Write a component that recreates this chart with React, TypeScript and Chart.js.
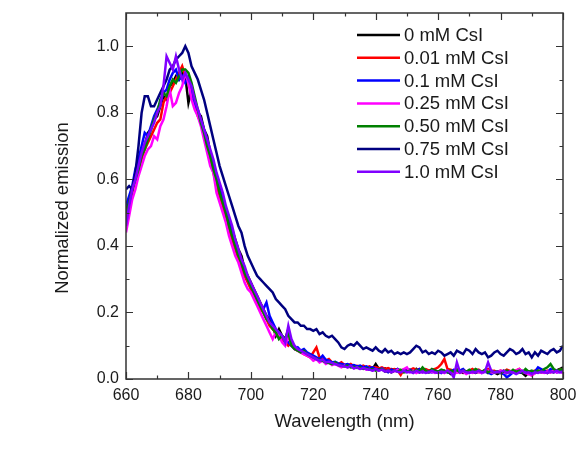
import React, { useEffect, useRef } from "react";
import { Chart, registerables } from "chart.js";

Chart.register(...registerables);

// Sampling grid: 660 nm to 800 nm, 1 nm step
const WL_START = 660;
const WL_STEP = 1;

const seriesLabels = [
  "0 mM CsI",
  "0.01 mM CsI",
  "0.1 mM CsI",
  "0.25 mM CsI",
  "0.50 mM CsI",
  "0.75 mM CsI",
  "1.0 mM CsI",
];

const seriesColors = ["#000000", "#ff0000", "#0000ff", "#ff00ff", "#008000", "#000080", "#8000ff"];

const cs0 = [
  0.50, 0.54, 0.57, 0.62, 0.64, 0.68, 0.70, 0.74, 0.75, 0.78,
  0.79, 0.82, 0.85, 0.84, 0.88, 0.89, 0.91, 0.90, 0.92, 0.91,
  0.83, 0.87, 0.84, 0.80, 0.79, 0.75, 0.73, 0.68, 0.65, 0.61,
  0.58, 0.55, 0.51, 0.48, 0.45, 0.42, 0.39, 0.37, 0.33, 0.31,
  0.29, 0.27, 0.25, 0.23, 0.21, 0.19, 0.18, 0.16, 0.13, 0.15,
  0.13, 0.12, 0.15, 0.10, 0.095, 0.09, 0.08, 0.085, 0.075, 0.07,
  0.065, 0.06, 0.058, 0.055, 0.05, 0.052, 0.045, 0.047, 0.042, 0.04,
  0.041, 0.038, 0.04, 0.035, 0.037, 0.033, 0.035, 0.03, 0.033, 0.03,
  0.045, 0.03, 0.028, 0.032, 0.025, 0.03, 0.027, 0.03, 0.025, 0.028,
  0.03, 0.025, 0.022, 0.03, 0.02, 0.025, 0.028, 0.022, 0.025, 0.02,
  0.022, 0.025, 0.02, 0.023, 0.015, 0.02, 0.025, 0.022, 0.018, 0.02,
  0.025, 0.02, 0.018, 0.022, 0.02, 0.025, 0.018, 0.022, 0.02, 0.015,
  0.02, 0.025, 0.018, 0.022, 0.02, 0.024, 0.02, 0.018, 0.01, 0.02,
  0.022, 0.018, 0.025, 0.02, 0.022, 0.018, 0.024, 0.02, 0.026, 0.03,
  0.035,
];

const cs001 = [
  0.47, 0.52, 0.56, 0.60, 0.63, 0.66, 0.69, 0.71, 0.73, 0.75,
  0.77, 0.78, 0.83, 0.85, 0.86, 0.88, 0.90, 0.92, 0.94, 0.91,
  0.90, 0.86, 0.83, 0.79, 0.77, 0.73, 0.70, 0.66, 0.62, 0.58,
  0.55, 0.52, 0.48, 0.45, 0.42, 0.39, 0.36, 0.33, 0.31, 0.29,
  0.27, 0.25, 0.23, 0.21, 0.20, 0.18, 0.16, 0.15, 0.14, 0.13,
  0.12, 0.11, 0.10, 0.11, 0.09, 0.085, 0.08, 0.075, 0.07, 0.065,
  0.08, 0.095, 0.065, 0.06, 0.055, 0.06, 0.05, 0.048, 0.045, 0.05,
  0.042, 0.04, 0.045, 0.038, 0.04, 0.036, 0.04, 0.035, 0.038, 0.033,
  0.036, 0.032, 0.035, 0.03, 0.033, 0.028, 0.03, 0.026, 0.012, 0.028,
  0.03, 0.027, 0.032, 0.028, 0.03, 0.025, 0.03, 0.026, 0.028, 0.03,
  0.035, 0.045, 0.06, 0.03, 0.028, 0.025, 0.03, 0.026, 0.028, 0.022,
  0.025, 0.03, 0.024, 0.028, 0.022, 0.026, 0.03, 0.024, 0.025, 0.02,
  0.025, 0.022, 0.028, 0.024, 0.02, 0.026, 0.03, 0.022, 0.025, 0.02,
  0.022, 0.025, 0.02, 0.028, 0.022, 0.025, 0.02, 0.026, 0.022, 0.028,
  0.03,
];

const cs01 = [
  0.52, 0.55, 0.58, 0.63, 0.66, 0.70, 0.74, 0.73, 0.76, 0.79,
  0.81, 0.83, 0.86, 0.87, 0.90, 0.92, 0.93, 0.90, 0.91, 0.89,
  0.91, 0.85, 0.82, 0.81, 0.78, 0.75, 0.72, 0.68, 0.64, 0.61,
  0.57, 0.54, 0.50, 0.47, 0.44, 0.41, 0.38, 0.35, 0.32, 0.30,
  0.28, 0.26, 0.24, 0.22, 0.21, 0.23, 0.19, 0.17, 0.15, 0.14,
  0.13, 0.12, 0.11, 0.10, 0.09, 0.095, 0.085, 0.09, 0.08, 0.075,
  0.07, 0.065, 0.06, 0.07, 0.058, 0.055, 0.05, 0.052, 0.047, 0.045,
  0.043, 0.045, 0.04, 0.042, 0.038, 0.04, 0.035, 0.038, 0.033, 0.035,
  0.03, 0.028, 0.032, 0.025, 0.02, 0.028, 0.025, 0.03, 0.022, 0.026,
  0.025, 0.028, 0.022, 0.025, 0.03, 0.02, 0.025, 0.022, 0.02, 0.025,
  0.022, 0.018, 0.025, 0.02, 0.022, 0.028, 0.02, 0.025, 0.03, 0.02,
  0.018, 0.022, 0.02, 0.025, 0.018, 0.022, 0.02, 0.015, 0.02, 0.022,
  0.018, 0.015, 0.005, 0.012, 0.02, 0.018, 0.022, 0.02, 0.025, 0.015,
  0.02, 0.022, 0.035, 0.03, 0.025, 0.02, 0.03, 0.025, 0.02, 0.022,
  0.025,
];

const cs025 = [
  0.44, 0.49, 0.54, 0.57, 0.61, 0.64, 0.67, 0.69, 0.70, 0.73,
  0.72, 0.76, 0.78, 0.82, 0.87, 0.82, 0.83, 0.86, 0.88, 0.92,
  0.89, 0.84, 0.81, 0.79, 0.76, 0.72, 0.68, 0.64, 0.62, 0.56,
  0.53, 0.50, 0.47, 0.43, 0.40, 0.37, 0.35, 0.32, 0.29, 0.27,
  0.26, 0.24, 0.22, 0.20, 0.18, 0.16, 0.14, 0.12, 0.14, 0.13,
  0.11, 0.10, 0.13, 0.10, 0.09, 0.085, 0.08, 0.075, 0.07, 0.065,
  0.055, 0.06, 0.05, 0.055, 0.045, 0.05, 0.042, 0.045, 0.04, 0.035,
  0.04, 0.035, 0.038, 0.032, 0.035, 0.03, 0.033, 0.028, 0.03, 0.025,
  0.028, 0.025, 0.03, 0.022, 0.025, 0.02, 0.023, 0.028, 0.025, 0.03,
  0.035, 0.02, 0.025, 0.018, 0.022, 0.02, 0.025, 0.02, 0.022, 0.018,
  0.02, 0.022, 0.018, 0.025, 0.02, 0.015, 0.02, 0.018, 0.022, 0.015,
  0.02, 0.018, 0.022, 0.02, 0.018, 0.022, 0.025, 0.02, 0.018, 0.022,
  0.025, 0.02, 0.018, 0.022, 0.02, 0.025, 0.03, 0.022, 0.018, 0.015,
  0.01, 0.018, 0.022, 0.02, 0.018, 0.022, 0.02, 0.025, 0.02, 0.022,
  0.018,
];

const cs050 = [
  0.50, 0.53, 0.57, 0.60, 0.63, 0.67, 0.69, 0.72, 0.75, 0.78,
  0.80, 0.84, 0.86, 0.85, 0.88, 0.90, 0.89, 0.91, 0.93, 0.93,
  0.92, 0.89, 0.85, 0.81, 0.77, 0.74, 0.70, 0.67, 0.63, 0.60,
  0.56, 0.53, 0.50, 0.46, 0.43, 0.40, 0.37, 0.35, 0.32, 0.30,
  0.28, 0.26, 0.24, 0.22, 0.20, 0.18, 0.17, 0.15, 0.14, 0.12,
  0.13, 0.12, 0.14, 0.10, 0.09, 0.085, 0.08, 0.085, 0.075, 0.07,
  0.065, 0.06, 0.058, 0.055, 0.05, 0.048, 0.045, 0.05, 0.042, 0.04,
  0.038, 0.04, 0.035, 0.037, 0.033, 0.035, 0.03, 0.033, 0.028, 0.03,
  0.025, 0.028, 0.03, 0.022, 0.025, 0.02, 0.026, 0.022, 0.028, 0.02,
  0.022, 0.025, 0.02, 0.028, 0.022, 0.035, 0.025, 0.02, 0.03, 0.025,
  0.022, 0.028, 0.025, 0.02, 0.025, 0.022, 0.028, 0.02, 0.025, 0.022,
  0.028, 0.022, 0.03, 0.025, 0.022, 0.028, 0.02, 0.025, 0.02, 0.022,
  0.018, 0.022, 0.025, 0.02, 0.028, 0.022, 0.025, 0.02, 0.03, 0.022,
  0.025, 0.02, 0.025, 0.022, 0.03, 0.035, 0.045, 0.03, 0.025, 0.028,
  0.03,
];

const cs075 = [
  0.57, 0.58, 0.57, 0.62, 0.70, 0.80, 0.85, 0.85, 0.82, 0.82,
  0.84, 0.86, 0.88, 0.90, 0.93, 0.94, 0.96, 0.97, 0.98, 1.00,
  0.98, 0.94, 0.92, 0.90, 0.87, 0.84, 0.80, 0.76, 0.72, 0.68,
  0.64, 0.61, 0.58, 0.55, 0.52, 0.49, 0.46, 0.44, 0.40, 0.37,
  0.35, 0.33, 0.31, 0.30, 0.29, 0.28, 0.27, 0.26, 0.24, 0.23,
  0.22, 0.21, 0.19, 0.18, 0.17, 0.17, 0.16, 0.16, 0.15, 0.15,
  0.145, 0.15, 0.135, 0.14, 0.13, 0.125, 0.13, 0.12, 0.11, 0.095,
  0.09, 0.10, 0.105, 0.10, 0.11, 0.10, 0.09, 0.095, 0.09, 0.085,
  0.095, 0.085, 0.08, 0.09, 0.08, 0.085, 0.075, 0.08, 0.075, 0.08,
  0.075, 0.08, 0.09, 0.10, 0.095, 0.08, 0.085, 0.075, 0.08, 0.075,
  0.085, 0.08, 0.07, 0.075, 0.08, 0.07, 0.085, 0.08, 0.075, 0.09,
  0.085, 0.075, 0.09, 0.08, 0.075, 0.08, 0.065, 0.07, 0.08, 0.085,
  0.075, 0.07, 0.08, 0.09, 0.085, 0.075, 0.08, 0.09, 0.075, 0.08,
  0.065, 0.08, 0.07, 0.085, 0.08, 0.075, 0.085, 0.09, 0.08, 0.085,
  0.10,
];

const cs10 = [
  0.46, 0.52, 0.57, 0.60, 0.64, 0.68, 0.71, 0.73, 0.75, 0.77,
  0.80, 0.82, 0.88, 0.97, 0.95, 0.93, 0.97, 0.93, 0.90, 0.92,
  0.90, 0.88, 0.84, 0.81, 0.78, 0.75, 0.72, 0.69, 0.66, 0.62,
  0.59, 0.56, 0.52, 0.49, 0.46, 0.42, 0.39, 0.36, 0.34, 0.31,
  0.29, 0.27, 0.25, 0.23, 0.21, 0.19, 0.17, 0.16, 0.15, 0.14,
  0.13, 0.11, 0.16, 0.12, 0.10, 0.09, 0.085, 0.08, 0.075, 0.07,
  0.065, 0.06, 0.055, 0.058, 0.05, 0.052, 0.048, 0.045, 0.042, 0.04,
  0.038, 0.035, 0.04, 0.032, 0.035, 0.03, 0.033, 0.03, 0.028, 0.025,
  0.03, 0.025, 0.028, 0.022, 0.025, 0.02, 0.025, 0.022, 0.02, 0.025,
  0.02, 0.022, 0.018, 0.025, 0.02, 0.022, 0.018, 0.02, 0.025, 0.02,
  0.018, 0.022, 0.02, 0.025, 0.02, 0.005, 0.05, 0.02, 0.025, 0.02,
  0.018, 0.022, 0.02, 0.025, 0.02, 0.022, 0.05, 0.025, 0.02, 0.022,
  0.02, 0.025, 0.018, 0.022, 0.02, 0.015, 0.02, 0.025, 0.018, 0.02,
  0.015, 0.02, 0.018, 0.022, 0.02, 0.018, 0.022, 0.02, 0.025, 0.02,
  0.022,
];

const seriesValues = [cs0, cs001, cs01, cs025, cs050, cs075, cs10];

const xTickValues = [660, 680, 700, 720, 740, 760, 780, 800];
const yTickValues = [0.0, 0.2, 0.4, 0.6, 0.8, 1.0];
const X_MIN = 660;
const X_MAX = 800;
const Y_MIN = 0;
const Y_MAX = 1.1;

const FONT = "'Liberation Sans', Arial, Helvetica, sans-serif";
const TEXT_COLOR = "#1a1a1a";
const AXIS_COLOR = "#333333";

const framePlugin = {
  id: "frameTicks",
  afterDraw(chart: any) {
    const { ctx, chartArea } = chart;
    const xs = chart.scales.x;
    const ys = chart.scales.y;
    const { left, right, top, bottom } = chartArea;
    ctx.save();
    ctx.strokeStyle = AXIS_COLOR;
    ctx.lineWidth = 1.5;
    ctx.strokeRect(left, top, right - left, bottom - top);
    ctx.lineWidth = 1.2;
    const majorLen = 7;
    const minorLen = 3.5;
    // x ticks (bottom and top, inward)
    for (let i = 0; i < xTickValues.length; i++) {
      const v = xTickValues[i];
      const px = Math.round(xs.getPixelForValue(v)) + 0.5;
      ctx.beginPath();
      ctx.moveTo(px, bottom);
      ctx.lineTo(px, bottom - majorLen);
      ctx.moveTo(px, top);
      ctx.lineTo(px, top + majorLen);
      ctx.stroke();
      if (i < xTickValues.length - 1) {
        const mv = (v + xTickValues[i + 1]) / 2;
        const mx = Math.round(xs.getPixelForValue(mv)) + 0.5;
        ctx.beginPath();
        ctx.moveTo(mx, bottom);
        ctx.lineTo(mx, bottom - minorLen);
        ctx.moveTo(mx, top);
        ctx.lineTo(mx, top + minorLen);
        ctx.stroke();
      }
    }
    // y ticks (left and right, inward)
    for (let i = 0; i < yTickValues.length; i++) {
      const v = yTickValues[i];
      const py = Math.round(ys.getPixelForValue(v)) + 0.5;
      ctx.beginPath();
      ctx.moveTo(left, py);
      ctx.lineTo(left + majorLen, py);
      ctx.moveTo(right, py);
      ctx.lineTo(right - majorLen, py);
      ctx.stroke();
      const mv = v + 0.1;
      if (mv < Y_MAX - 1e-6) {
        const my = Math.round(ys.getPixelForValue(mv)) + 0.5;
        ctx.beginPath();
        ctx.moveTo(left, my);
        ctx.lineTo(left + minorLen, my);
        ctx.moveTo(right, my);
        ctx.lineTo(right - minorLen, my);
        ctx.stroke();
      }
    }
    // axis titles
    ctx.fillStyle = TEXT_COLOR;
    ctx.font = `18.5px ${FONT}`;
    ctx.textAlign = "center";
    ctx.textBaseline = "middle";
    ctx.fillText("Wavelength (nm)", (left + right) / 2, bottom + 43);
    ctx.save();
    ctx.translate(left - 63, (top + bottom) / 2 + 12);
    ctx.rotate(-Math.PI / 2);
    ctx.fillText("Normalized emission", 0, 0);
    ctx.restore();
    // legend
    const lx0 = right - 206;
    const lx1 = right - 163;
    const tx = right - 159;
    ctx.font = `18.5px ${FONT}`;
    ctx.textAlign = "left";
    ctx.textBaseline = "middle";
    chart.data.datasets.forEach((ds: any, i: number) => {
      const y = top + 22 + i * 22.8;
      ctx.strokeStyle = ds.borderColor;
      ctx.lineWidth = 2.5;
      ctx.beginPath();
      ctx.moveTo(lx0, y);
      ctx.lineTo(lx1, y);
      ctx.stroke();
      ctx.fillStyle = TEXT_COLOR;
      ctx.fillText(ds.label, tx, y + 1);
    });
    ctx.restore();
  },
};

export default function App() {
  const canvasRef = useRef<HTMLCanvasElement | null>(null);

  useEffect(() => {
    const canvas = canvasRef.current;
    if (!canvas) return;
    const datasets = seriesValues.map((vals, si) => ({
      label: seriesLabels[si],
      data: vals.map((v, i) => ({ x: WL_START + i * WL_STEP, y: v })),
      borderColor: seriesColors[si],
      backgroundColor: seriesColors[si],
      borderWidth: 2.5,
      pointRadius: 0,
      tension: 0,
      fill: false,
      order: seriesValues.length - si,
    }));
    const chart = new Chart(canvas, {
      type: "line",
      data: { datasets },
      options: {
        responsive: false,
        animation: false,
        maintainAspectRatio: false,
        layout: { padding: { left: 0, right: 13, top: 13, bottom: 0 } },
        plugins: {
          legend: { display: false },
          tooltip: { enabled: false },
        },
        scales: {
          x: {
            type: "linear",
            min: X_MIN,
            max: X_MAX,
            afterFit: (scale: any) => {
              scale.height = 77;
              scale.paddingLeft = 0;
              scale.paddingRight = 0;
            },
            afterBuildTicks: (scale: any) => {
              scale.ticks = xTickValues.map((v) => ({ value: v }));
            },
            grid: { display: false, drawTicks: false },
            border: { display: false },
            ticks: {
              padding: 7,
              color: TEXT_COLOR,
              font: { family: FONT, size: 16 },
              maxRotation: 0,
              autoSkip: false,
              callback: (v: any) => String(Math.round(Number(v))),
            },
          },
          y: {
            type: "linear",
            min: Y_MIN,
            max: Y_MAX,
            afterFit: (scale: any) => {
              scale.width = 126;
              scale.paddingTop = 0;
              scale.paddingBottom = 0;
            },
            afterBuildTicks: (scale: any) => {
              scale.ticks = yTickValues.map((v) => ({ value: v }));
            },
            grid: { display: false, drawTicks: false },
            border: { display: false },
            ticks: {
              padding: 7,
              color: TEXT_COLOR,
              font: { family: FONT, size: 16 },
              autoSkip: false,
              callback: (v: any) => Number(v).toFixed(1),
            },
          },
        },
      },
      plugins: [framePlugin],
    });
    return () => chart.destroy();
  }, []);

  return (
    <div style={{ position: "fixed", left: 0, top: 0, width: 576, height: 456, background: "#ffffff" }}>
      <canvas ref={canvasRef} width={576} height={456} style={{ display: "block" }} />
    </div>
  );
}
